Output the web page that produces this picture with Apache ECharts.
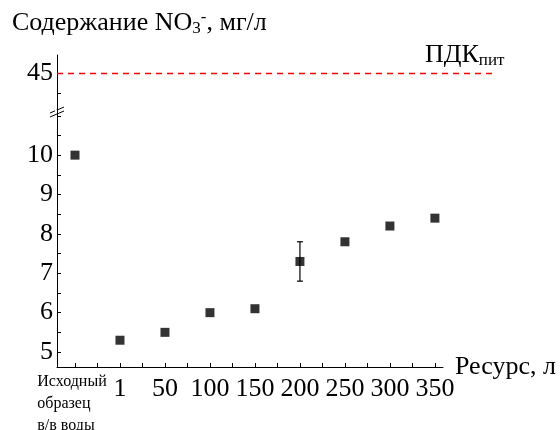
<!DOCTYPE html>
<html>
<head>
<meta charset="utf-8">
<script src="https://cdn.jsdelivr.net/npm/echarts@6/dist/echarts.min.js"></script>
<style>
  html, body { margin: 0; padding: 0; background: #fff; }
  #chart { width: 560px; height: 430px; }
</style>
</head>
<body>
<div id="chart"></div>
<script>
// категории (ресурс, л); первая точка - исходный образец
var categories = ['Исходный\nобразец\nв/в воды', '1', '50', '100', '150', '200', '250', '300', '350'];
var nitrate = [10, 5.3, 5.5, 6.0, 6.1, 7.3, 7.8, 8.2, 8.4];
var nitrateErr = [0, 0, 0, 0, 0, 0.5, 0, 0, 0];
var pdk = 45;
var yTicksLow = [5, 5.5, 6, 6.5, 7, 7.5, 8, 8.5, 9, 9.5, 10, 10.5, 11];
var yLabelsLow = [5, 6, 7, 8, 9, 10];
var yTicksHigh = [44.5, 45];
var yLabelsHigh = [45];
var xTicks = [0, 0.5, 1, 1.5, 2, 2.5, 3, 3.5, 4, 4.5, 5, 5.5, 6, 6.5, 7, 7.5, 8];
var xLabels = [0, 1, 2, 3, 4, 5, 6, 7, 8];

var FONT = 'Liberation Serif';
var chart = echarts.init(document.getElementById('chart'));

var points = nitrate.map(function (v, i) { return [i, v]; });
var errData = nitrate.map(function (v, i) { return [i, v - nitrateErr[i], v + nitrateErr[i]]; })
    .filter(function (d, i) { return nitrateErr[i] > 0; });

var option = {
    backgroundColor: '#fff',
    animation: false,
    textStyle: { fontFamily: FONT, color: '#000' },
    grid: [
        { left: 57, right: 65, top: 55, height: 58, outerBoundsMode: 'none', containLabel: false },
        { left: 57, right: 117, top: 113, bottom: 63, outerBoundsMode: 'none', containLabel: false }
    ],
    xAxis: [
        { gridIndex: 0, type: 'value', min: 0, max: 1, show: false },
        {
            gridIndex: 1, type: 'value', min: -0.4, max: 8.18,
            name: 'Ресурс, л', nameLocation: 'end', nameGap: 12, nameMoveOverlap: false,
            nameTextStyle: { fontFamily: FONT, fontSize: 26, color: '#000', padding: [0, 0, 12, 0] },
            axisLine: { onZero: false, lineStyle: { color: '#000', width: 1 } },
            splitLine: { show: false },
            axisTick: { inside: true, length: 4, customValues: xTicks, lineStyle: { color: '#000' } },
            axisLabel: {
                customValues: xLabels, margin: 4, color: '#000', fontFamily: FONT, fontSize: 26,
                hideOverlap: false, showMinLabel: true,
                formatter: function (v) {
                    var t = categories[Math.round(v)];
                    if (Math.round(v) === 0) {
                        return t.split('\n').map(function (s) { return '{s|' + s + '}'; }).join('\n');
                    }
                    return '{n|' + t + '}';
                },
                rich: {
                    s: { fontFamily: FONT, fontSize: 16, lineHeight: 22, color: '#000', align: 'left', padding: [0, 6, 0, 0] },
                    n: { fontFamily: FONT, fontSize: 26, color: '#000', padding: [5, 0, 0, 0] }
                }
            }
        }
    ],
    yAxis: [
        {
            gridIndex: 0, type: 'value', min: 44, max: 45.47,
            axisLine: { show: true, onZero: false, lineStyle: { color: '#000', width: 1 } },
            splitLine: { show: false },
            axisTick: { inside: true, length: 4, customValues: yTicksHigh, lineStyle: { color: '#000' } },
            axisLabel: { customValues: yLabelsHigh, margin: 4, color: '#000', fontFamily: FONT, fontSize: 26 }
        },
        {
            gridIndex: 1, type: 'value', min: 4.62, max: 11.07,
            axisLine: { show: true, onZero: false, lineStyle: { color: '#000', width: 1 } },
            splitLine: { show: false },
            axisTick: { inside: true, length: 4, customValues: yTicksLow, lineStyle: { color: '#000' } },
            axisLabel: { customValues: yLabelsLow, margin: 4, color: '#000', fontFamily: FONT, fontSize: 26 }
        }
    ],
    series: [
        {
            // ПДК
            type: 'line', xAxisIndex: 0, yAxisIndex: 0,
            data: [[0, pdk], [1, pdk]],
            symbol: 'none',
            lineStyle: { color: '#ff0000', width: 1.5, type: [6, 5] }
        },
        {
            type: 'custom', xAxisIndex: 1, yAxisIndex: 1,
            data: errData,
            renderItem: function (params, api) {
                var x = api.value(0);
                var lo = api.coord([x, api.value(1)]);
                var hi = api.coord([x, api.value(2)]);
                var w = 3;
                var st = { stroke: '#000', lineWidth: 1.2 };
                return {
                    type: 'group',
                    children: [
                        { type: 'line', shape: { x1: lo[0], y1: lo[1], x2: hi[0], y2: hi[1] }, style: st },
                        { type: 'line', shape: { x1: lo[0] - w, y1: lo[1], x2: lo[0] + w, y2: lo[1] }, style: st },
                        { type: 'line', shape: { x1: hi[0] - w, y1: hi[1], x2: hi[0] + w, y2: hi[1] }, style: st }
                    ]
                };
            }
        },
        {
            type: 'scatter', xAxisIndex: 1, yAxisIndex: 1,
            data: points,
            symbol: 'rect', symbolSize: 9,
            itemStyle: { color: '#000' },
            z: 5
        }
    ],
    graphic: [
        {
            type: 'text', left: 12, top: 9,
            style: {
                text: '{a|Содержание NO}{sub|3}{sup|-}{a|, мг/л}',
                rich: {
                    a: { fontFamily: FONT, fontSize: 26, fill: '#000' },
                    sub: { fontFamily: FONT, fontSize: 17, fill: '#000', padding: [11, 0, 0, 0] },
                    sup: { fontFamily: FONT, fontSize: 17, fill: '#000', padding: [0, 0, 11, 0] }
                }
            }
        },
        {
            type: 'text', left: 425, top: 42,
            style: {
                text: '{a|ПДК}{sub|пит}',
                rich: {
                    a: { fontFamily: FONT, fontSize: 26, fill: '#000' },
                    sub: { fontFamily: FONT, fontSize: 17, fill: '#000', padding: [11, 0, 0, 0] }
                }
            }
        },
        // разрыв оси
        { type: 'line', shape: { x1: 50, y1: 113, x2: 64, y2: 107 }, style: { stroke: '#000', lineWidth: 1 } },
        { type: 'line', shape: { x1: 50, y1: 117, x2: 64, y2: 111 }, style: { stroke: '#000', lineWidth: 1 } },
        { type: 'rect', shape: { x: 55, y: 110, width: 4, height: 3 }, style: { fill: '#fff' } }
    ]
};

chart.setOption(option);
</script>
</body>
</html>
